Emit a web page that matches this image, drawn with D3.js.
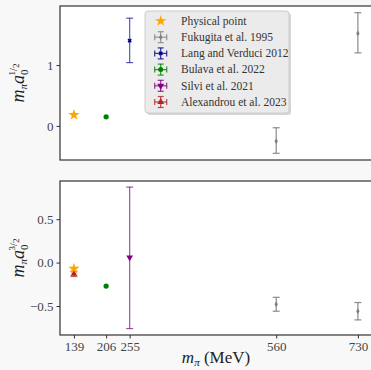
<!DOCTYPE html>
<html><head><meta charset="utf-8">
<script src="https://cdn.jsdelivr.net/npm/d3@7"></script>
<style>
body{margin:0;background:#f8f8f8;}
svg{display:block;}
svg text{font-family:"Liberation Serif","DejaVu Serif",serif !important;}
</style></head>
<body><div id="chart"></div>
<script>
const xTicks = [139, 206, 255, 560, 730];
const topTicks = [0, 1];
const botTicks = [-0.5, 0.0, 0.5];

const physical = {mpi: 139, a12: 0.18, a32: -0.07};
const fukugita = {mpi: [560, 730], a12: [-0.25, 1.52], a12lo: [-0.45, 1.20], a12hi: [-0.03, 1.86],
                  a32: [-0.48, -0.56], a32lo: [-0.56, -0.66], a32hi: [-0.40, -0.46]};
const lang = {mpi: [255], a12: [1.40], a12lo: [1.04], a12hi: [1.77]};
const bulava = {mpi: [206], a12: [0.15], a32: [-0.27]};
const silvi = {mpi: [255], a32: [0.06], a32lo: [-0.76], a32hi: [0.87]};
const alexandrou = {mpi: [139], a32: [-0.13], a32lo: [-0.16], a32hi: [-0.10]};

const legendLabels = ["Physical point","Fukugita et al. 1995","Lang and Verduci 2012","Bulava et al. 2022","Silvi et al. 2021","Alexandrou et al. 2023"];
const legendColors = ["orange","#808080","#00008b","green","purple","#b22222"];

const W=371,H=370;
const FONT="Liberation Serif, DejaVu Serif, serif";
const svg=d3.select("#chart").append("svg").attr("width",W).attr("height",H).attr("font-family",FONT);
svg.append("rect").attr("width",W).attr("height",H).attr("fill","#f8f8f8");

const x=d3.scaleLinear().domain([110,760]).range([60,372.3]);
const yT=d3.scaleLinear().domain([-0.56,1.97]).range([160,6]);
const yB=d3.scaleLinear().domain([-0.834,0.94]).range([335,181]);

function panel(y, ticks, fmt, showX){
  const [b,t]=y.range();
  svg.append("rect").attr("x",60).attr("y",t).attr("width",312.3).attr("height",b-t).attr("fill","white");
  const g=svg.append("g");
  const ya=g.append("g").attr("transform","translate(60,0)").call(d3.axisLeft(y).tickValues(ticks).tickFormat(fmt).tickSize(3.5).tickPadding(3));
  ya.attr("font-family",FONT).attr("font-size",13);
  ya.select(".domain").remove();
  ya.selectAll("line").attr("stroke","#333");
  ya.selectAll("text").attr("fill","#444");
  const xa=g.append("g").attr("transform",`translate(0,${b})`).call(d3.axisBottom(x).tickValues(xTicks).tickFormat(showX?d3.format("d"):"").tickSize(showX?3.5:0).tickPadding(3));
  xa.attr("font-family",FONT).attr("font-size",13);
  xa.select(".domain").remove();
  xa.selectAll("line").attr("stroke","#333");
  xa.selectAll("text").attr("fill","#444");
  g.append("rect").attr("x",60).attr("y",t).attr("width",312.3).attr("height",b-t).attr("fill","none").attr("stroke","#333").attr("stroke-width",1.2);
  return g;
}
const gT=panel(yT,topTicks,d3.format("d"),false);
const gB=panel(yB,botTicks,d3.format(".1f"),true);
gB.selectAll("text").each(function(){const s=d3.select(this);s.text(s.text().replace("-","\u2212"));});

function errbar(g,y,cx,cv,lo,hi,color,op){
  const X=x(cx);
  g.append("line").attr("x1",X).attr("x2",X).attr("y1",y(lo)).attr("y2",y(hi)).attr("stroke",color).attr("stroke-width",1.2).attr("opacity",op);
  [lo,hi].forEach(v=>g.append("line").attr("x1",X-3.5).attr("x2",X+3.5).attr("y1",y(v)).attr("y2",y(v)).attr("stroke",color).attr("stroke-width",1.2).attr("opacity",op));
}
function marker(g,type,X,Y,color,size){
  const sym={star:d3.symbolStar,circle:d3.symbolCircle,diamond:d3.symbolDiamond,triDown:d3.symbolTriangle,triUp:d3.symbolTriangle,x:d3.symbolX}[type];
  const p=g.append("path").attr("d",d3.symbol().type(sym).size(size)()).attr("transform",`translate(${X},${Y})`+(type==="triDown"?" rotate(180)":""));
  if(type==="x") p.attr("fill","none").attr("stroke",color).attr("stroke-width",1.6);
  else p.attr("fill",color);
}

// top panel
fukugita.mpi.forEach((m,i)=>{errbar(gT,yT,m,fukugita.a12[i],fukugita.a12lo[i],fukugita.a12hi[i],"#808080",0.9);marker(gT,"diamond",x(m),yT(fukugita.a12[i]),"#808080",10);});
lang.mpi.forEach((m,i)=>{errbar(gT,yT,m,lang.a12[i],lang.a12lo[i],lang.a12hi[i],"#00008b",0.65);marker(gT,"x",x(m),yT(lang.a12[i]),"#00008b",8);});
bulava.mpi.forEach((m,i)=>marker(gT,"circle",x(m),yT(bulava.a12[i]),"green",22));
marker(gT,"star",x(physical.mpi),yT(physical.a12),"orange",40);

// bottom panel
fukugita.mpi.forEach((m,i)=>{errbar(gB,yB,m,fukugita.a32[i],fukugita.a32lo[i],fukugita.a32hi[i],"#808080",0.9);marker(gB,"diamond",x(m),yB(fukugita.a32[i]),"#808080",10);});
silvi.mpi.forEach((m,i)=>{errbar(gB,yB,m,silvi.a32[i],silvi.a32lo[i],silvi.a32hi[i],"purple",0.7);marker(gB,"triDown",x(m),yB(silvi.a32[i]),"purple",20);});
bulava.mpi.forEach((m,i)=>marker(gB,"circle",x(m),yB(bulava.a32[i]),"green",22));
alexandrou.mpi.forEach((m,i)=>{errbar(gB,yB,m,alexandrou.a32[i],alexandrou.a32lo[i],alexandrou.a32hi[i],"#b22222",0.7);marker(gB,"triUp",x(m),yB(alexandrou.a32[i]),"#b22222",20);});
marker(gB,"star",x(physical.mpi),yB(physical.a32),"orange",40);

// legend
const lg=svg.append("g");
lg.append("rect").attr("x",147).attr("y",13).attr("width",144).attr("height",102).attr("rx",3).attr("fill","#bbb").attr("opacity",0.6);
lg.append("rect").attr("x",145).attr("y",11).attr("width",144).attr("height",102).attr("rx",3).attr("fill","#ebebeb").attr("stroke","#ccc");
const legMarkers=["star","diamond","x","circle","triDown","triUp"];
legendLabels.forEach((lab,i)=>{
  const Y=21+i*16.2, X=160.7, c=legendColors[i];
  if(i>0){
    lg.append("line").attr("x1",X).attr("x2",X).attr("y1",Y-5.5).attr("y2",Y+5.5).attr("stroke",c).attr("stroke-width",1.2).attr("opacity",0.8);
    lg.append("line").attr("x1",X-6).attr("x2",X+6).attr("y1",Y).attr("y2",Y).attr("stroke",c).attr("stroke-width",1.2).attr("opacity",0.8);
    [[X-3,Y-5.5,X+3,Y-5.5],[X-3,Y+5.5,X+3,Y+5.5],[X-6,Y-3,X-6,Y+3],[X+6,Y-3,X+6,Y+3]].forEach(a=>lg.append("line").attr("x1",a[0]).attr("y1",a[1]).attr("x2",a[2]).attr("y2",a[3]).attr("stroke",c).attr("stroke-width",1.2).attr("opacity",0.8));
  }
  marker(lg,legMarkers[i],X,Y,c,i===0?40:(i===1?10:(i===2?8:20)));
  lg.append("text").attr("x",181).attr("y",Y+3.8).attr("font-size",11.5).attr("fill","#333").text(lab);
});

// axis labels
svg.append("text").attr("x",216).attr("y",363).attr("text-anchor","middle").attr("font-size",17).attr("fill","#222")
  .call(t=>{t.append("tspan").attr("font-style","italic").text("m");t.append("tspan").attr("font-size",11).attr("dy",3).attr("font-style","italic").text("π");t.append("tspan").attr("dy",-3).text(" (MeV)");});
function ylab(cy,num){
  svg.append("text").attr("transform",`translate(24,${cy}) rotate(-90)`).attr("text-anchor","middle").attr("font-size",18).attr("fill","#222")
    .call(t=>{t.append("tspan").attr("font-style","italic").text("m");
      t.append("tspan").attr("font-size",11).attr("dy",3).attr("font-style","italic").text("π");
      t.append("tspan").attr("dy",-3).attr("font-style","italic").text("a");
      t.append("tspan").attr("font-size",11).attr("dy",4).text("0");
      t.append("tspan").attr("font-size",9).attr("dy",-13).attr("dx",-6).text(num);
      t.append("tspan").attr("font-size",10).attr("dy",2).text("/");
      t.append("tspan").attr("font-size",9).attr("dy",2).text("2");});
}
ylab(83,"1");
ylab(258,"3");
</script></body></html>
